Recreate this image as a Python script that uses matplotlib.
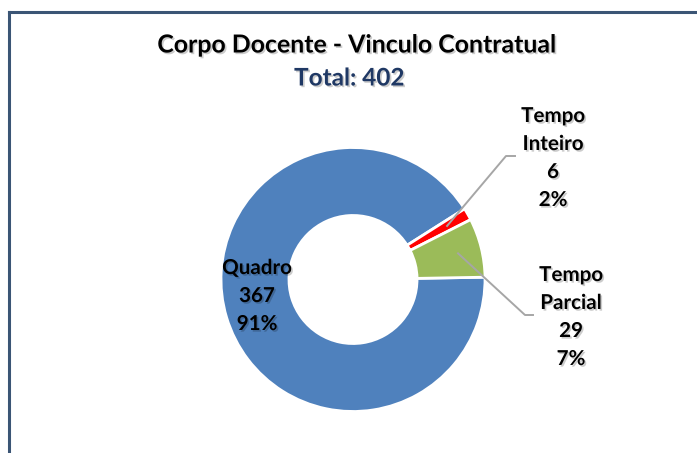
import numpy as np
import matplotlib
matplotlib.use("Agg")
import matplotlib.pyplot as plt
import matplotlib.patheffects as pe
from matplotlib.lines import Line2D

# ---- data ----
categories = ["Quadro", "Tempo Inteiro", "Tempo Parcial"]
values = [367, 6, 29]
percent_labels = ["91%", "2%", "7%"]
label_names = ["Quadro", "Tempo\nInteiro", "Tempo\nParcial"]
colors = ["#4F81BD", "#FF0000", "#9BBB59"]
title = "Corpo Docente - Vinculo Contratual"
subtitle = "Total: 402"

W, H = 697, 453
fig = plt.figure(figsize=(W / 100, H / 100), dpi=100)
ax = fig.add_axes([0, 0, 1, 1])

cx, cy = 353, H - 279.5
R = 132
explode = [0, 0.06, 0.06]
start = 1.0
wedges, _ = ax.pie(values, colors=colors, radius=R, center=(cx, cy),
                   startangle=start, counterclock=False, explode=explode,
                   wedgeprops=dict(width=R * 0.515, edgecolor="white", linewidth=2),
                   frame=True)
ax.set_xlim(0, W)
ax.set_ylim(0, H)
ax.set_aspect("equal")
ax.axis("off")

font = "Lato"
shadow = [pe.SimplePatchShadow(offset=(1.2, -1.2), shadow_rgbFace="#000000", alpha=0.2), pe.Normal()]

# leader lines from wedge mid angles
elbows = {1: ((506, H - 156), (515, H - 156)), 2: ((525, H - 315), (533, H - 315))}
for i, w in enumerate(wedges):
    mid = np.deg2rad((w.theta1 + w.theta2) / 2)
    if i in elbows:
        ex = cx + explode[i] * R * np.cos(mid)
        ey = cy + explode[i] * R * np.sin(mid)
        sx = ex + 0.76 * R * np.cos(mid)
        sy = ey + 0.76 * R * np.sin(mid)
        (e1, e2) = elbows[i]
        ax.add_line(Line2D([sx, e1[0], e2[0]], [sy, e1[1], e2[1]],
                           color="#A6A6A6", lw=1.4, zorder=5))

# labels
label_pos = [(257, H - 296), (553, H - 158), (571, H - 317)]
for i, (x, y) in enumerate(label_pos):
    txt = f"{label_names[i]}\n{values[i]}\n{percent_labels[i]}"
    ax.text(x, y, txt, ha="center", va="center", fontsize=14.8, fontweight="bold",
            family=font, linespacing=1.5, color="black", path_effects=shadow, zorder=6)

ax.text(357, H - 45, title, ha="center", va="center", fontsize=17.9, fontweight="bold",
        family=font, color="black", path_effects=shadow)
ax.text(349, H - 78, subtitle, ha="center", va="center", fontsize=17.5, fontweight="bold",
        family=font, color="#1F3864", path_effects=shadow)

# chart border (extends off right/bottom)
bc = "#3B5575"
fig.add_artist(Line2D([9 / W, 9 / W], [0, 1 - 12 / H], color=bc, lw=2.2, transform=fig.transFigure))
fig.add_artist(Line2D([9 / W, 1], [1 - 12 / H, 1 - 12 / H], color=bc, lw=2.2, transform=fig.transFigure))

fig.savefig("out.png", dpi=100, facecolor="white")
